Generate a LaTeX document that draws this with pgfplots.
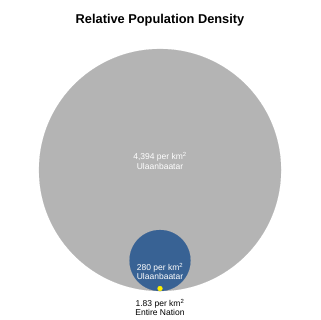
\documentclass[border=0pt]{standalone}
\usepackage{fontspec}
\setmainfont{Liberation Sans}
\usepackage{pgfplots}
\pgfplotsset{compat=1.18}
\definecolor{bigGray}{RGB}{180,180,180}
\definecolor{cityBlue}{RGB}{56,98,148}
\definecolor{dotYellow}{RGB}{255,240,0}
\begin{document}
\begin{tikzpicture}
\begin{axis}[
  x=1pt, y=1pt, y dir=reverse,
  xmin=0, xmax=320, ymin=0, ymax=320,
  hide axis, clip=false, scale only axis,
]
\path (axis cs:0,0) rectangle (axis cs:320,320);
% circles: area proportional to density, bottoms tangent at y=291
\addplot[only marks, mark=*, mark size=121pt, mark options={draw=bigGray, fill=bigGray, line width=0.1pt}] coordinates {(160,170)};
\addplot[only marks, mark=*, mark size=30.5pt, mark options={draw=cityBlue, fill=cityBlue, line width=0.1pt}] coordinates {(160,260.5)};
\addplot[only marks, mark=*, mark size=2.5pt, mark options={draw=dotYellow, fill=dotYellow, line width=0.1pt}] coordinates {(160,288.5)};
\coordinate (T) at (axis cs:160,20);
\coordinate (A) at (axis cs:160,161);
\coordinate (B) at (axis cs:160,271.5);
\coordinate (C) at (axis cs:160,307.5);
\end{axis}
\node[font=\bfseries\fontsize{12.8}{14}\selectfont] at (T) {Relative Population Density};
\node[text=white, font=\fontsize{8.5}{9.5}\selectfont, align=center] at (A) {4,394 per km\textsuperscript{2}\\Ulaanbaatar};
\node[text=white, font=\fontsize{8.5}{9.5}\selectfont, align=center] at (B) {280 per km\textsuperscript{2}\\Ulaanbaatar};
\node[text=black, font=\fontsize{8.5}{9.5}\selectfont, align=center] at (C) {1.83 per km\textsuperscript{2}\\Entire Nation};
\end{tikzpicture}
\end{document}
